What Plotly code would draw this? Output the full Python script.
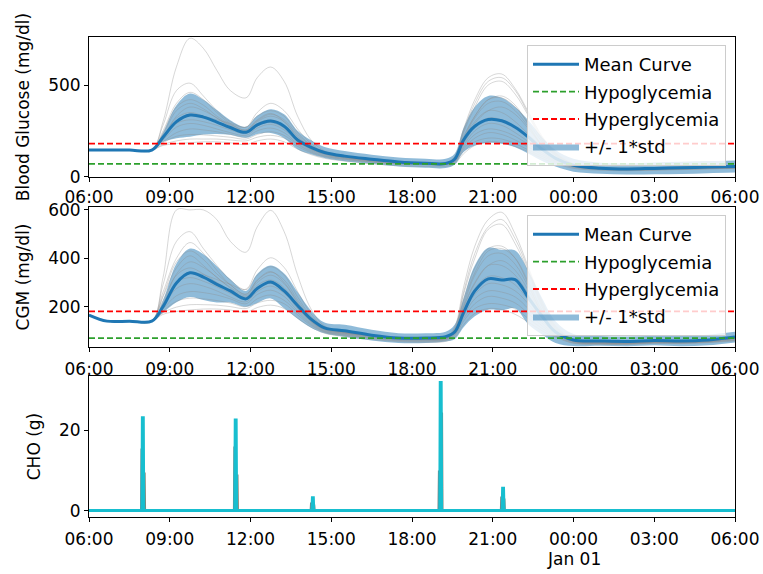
import plotly.graph_objects as go
from datetime import datetime, timedelta

# ---------------- data ----------------
time_grid = ["06:00", "06:40", "07:30", "08:20", "08:45", "09:15", "09:45", "10:15", "10:45", "11:15",
             "11:50", "12:15", "12:45", "13:15", "13:45", "14:15", "14:45", "15:30", "16:30", "17:30",
             "18:30", "19:15", "19:35", "19:55", "20:20", "20:50", "21:20", "21:50", "22:20", "22:50",
             "23:20", "00:00", "01:00", "02:00", "03:00", "04:00", "05:00", "06:00"]

bg_mean = [145, 145, 145, 145, 215, 300, 336, 325, 298, 268, 242, 282, 303, 275, 200, 160, 132, 112, 95, 80,
           73, 72, 95, 200, 275, 312, 305, 270, 215, 150, 100, 62, 46, 42, 45, 48, 52, 55]
bg_std = [0, 0, 0, 0, 25, 90, 118, 95, 65, 40, 30, 50, 65, 65, 50, 38, 30, 28, 25, 25,
          25, 25, 30, 65, 105, 128, 125, 110, 90, 65, 45, 35, 30, 30, 32, 33, 33, 33]

cgm_mean = [165, 140, 140, 140, 200, 298, 340, 322, 292, 265, 232, 275, 302, 265, 205, 148, 112, 100, 82, 70,
            70, 76, 95, 175, 265, 315, 310, 312, 235, 160, 95, 62, 58, 56, 60, 58, 62, 74]
cgm_std = [0, 0, 0, 0, 25, 80, 100, 95, 75, 48, 33, 60, 68, 72, 55, 35, 22, 25, 22, 20,
           20, 20, 30, 60, 105, 128, 125, 120, 110, 75, 45, 25, 20, 20, 20, 22, 22, 22]

bg_curves = [
    [145, 145, 145, 145, 300, 600, 755, 700, 580, 470, 430, 540, 598, 520, 330, 200, 140, 110, 90, 80, 75, 72, 100, 220, 330, 420, 440, 390, 280, 170, 100, 60, 45, 40, 42, 45, 48, 50],
    [145, 145, 145, 145, 280, 470, 510, 440, 360, 300, 270, 330, 360, 330, 240, 170, 130, 105, 88, 76, 70, 70, 110, 260, 420, 540, 560, 480, 350, 220, 130, 70, 50, 45, 48, 50, 52, 55],
    [145, 145, 145, 145, 250, 400, 460, 420, 350, 290, 255, 310, 345, 300, 215, 165, 135, 110, 92, 80, 72, 70, 100, 240, 380, 500, 520, 450, 330, 200, 120, 65, 48, 42, 44, 46, 50, 52],
    [145, 145, 145, 145, 230, 360, 400, 370, 320, 280, 250, 300, 330, 300, 220, 160, 130, 108, 90, 78, 72, 71, 95, 210, 330, 420, 430, 380, 290, 190, 115, 62, 46, 40, 42, 45, 48, 52],
    [145, 145, 145, 145, 220, 320, 350, 330, 300, 270, 245, 290, 310, 280, 205, 155, 125, 105, 88, 77, 71, 70, 92, 200, 300, 360, 350, 300, 230, 160, 105, 60, 45, 40, 42, 45, 48, 52],
    [145, 145, 145, 145, 210, 290, 310, 300, 280, 255, 235, 275, 300, 270, 200, 150, 122, 102, 86, 75, 70, 69, 88, 180, 270, 320, 310, 270, 210, 150, 100, 58, 44, 40, 41, 44, 48, 50],
    [145, 145, 145, 145, 200, 270, 290, 280, 260, 240, 225, 265, 285, 255, 190, 145, 120, 100, 85, 74, 69, 68, 85, 170, 250, 290, 280, 240, 190, 140, 95, 56, 43, 38, 40, 43, 46, 50],
    [145, 145, 145, 145, 190, 240, 260, 255, 245, 230, 215, 250, 265, 240, 180, 140, 115, 98, 82, 72, 67, 67, 82, 160, 230, 260, 250, 220, 175, 130, 90, 55, 42, 38, 40, 42, 45, 48],
    [145, 145, 145, 145, 185, 220, 230, 228, 222, 215, 205, 230, 245, 225, 175, 135, 112, 95, 80, 70, 66, 66, 80, 150, 210, 240, 230, 200, 160, 120, 85, 52, 40, 36, 38, 41, 44, 48],
    [145, 145, 145, 145, 175, 195, 205, 205, 205, 200, 195, 215, 225, 210, 165, 130, 108, 92, 78, 68, 64, 64, 76, 140, 190, 210, 205, 180, 145, 110, 80, 50, 38, 35, 37, 40, 43, 46],
    [145, 145, 145, 145, 170, 180, 185, 190, 190, 185, 175, 195, 205, 190, 150, 120, 100, 85, 70, 60, 55, 56, 70, 125, 170, 190, 185, 165, 135, 100, 72, 45, 35, 32, 35, 38, 42, 45],
    [145, 145, 145, 145, 240, 380, 420, 390, 330, 285, 255, 305, 340, 310, 230, 170, 135, 112, 95, 82, 75, 73, 105, 250, 400, 520, 540, 470, 340, 210, 125, 68, 50, 45, 48, 52, 56, 60],
    [145, 145, 145, 145, 215, 330, 380, 360, 320, 275, 240, 280, 295, 265, 195, 150, 125, 105, 90, 80, 74, 72, 90, 190, 290, 360, 380, 340, 260, 170, 105, 60, 46, 42, 44, 48, 52, 56],
    [145, 145, 145, 145, 205, 300, 340, 330, 310, 290, 270, 350, 400, 360, 260, 180, 135, 110, 92, 80, 73, 71, 90, 200, 320, 400, 410, 360, 270, 170, 105, 60, 46, 42, 45, 48, 52, 56],
]

cgm_curves = [
    [165, 140, 140, 140, 320, 600, 600, 600, 560, 470, 425, 530, 598, 510, 330, 190, 120, 95, 80, 70, 68, 70, 100, 230, 360, 440, 450, 400, 290, 170, 95, 60, 55, 52, 56, 55, 60, 70],
    [165, 140, 140, 140, 290, 470, 510, 440, 370, 310, 270, 330, 365, 330, 240, 160, 115, 95, 80, 70, 68, 72, 115, 280, 450, 560, 590, 500, 360, 220, 120, 65, 58, 55, 60, 58, 62, 75],
    [165, 140, 140, 140, 260, 400, 465, 420, 350, 290, 250, 310, 345, 300, 220, 150, 110, 92, 78, 68, 66, 70, 105, 250, 400, 520, 540, 460, 340, 200, 110, 62, 55, 54, 58, 56, 60, 72],
    [165, 140, 140, 140, 240, 360, 410, 370, 320, 280, 245, 300, 330, 295, 215, 145, 108, 92, 80, 70, 68, 70, 100, 220, 340, 430, 440, 400, 300, 185, 105, 60, 54, 52, 56, 55, 60, 72],
    [165, 140, 140, 140, 225, 330, 360, 335, 300, 268, 240, 288, 310, 278, 205, 140, 105, 90, 78, 68, 66, 68, 95, 200, 300, 370, 370, 330, 250, 160, 100, 58, 52, 50, 55, 54, 58, 70],
    [165, 140, 140, 140, 210, 300, 320, 305, 282, 255, 230, 272, 298, 266, 198, 138, 103, 88, 76, 66, 64, 67, 92, 185, 275, 325, 320, 290, 225, 150, 95, 56, 50, 49, 54, 53, 57, 68],
    [165, 140, 140, 140, 200, 275, 295, 285, 265, 240, 220, 262, 285, 255, 192, 135, 100, 86, 74, 64, 62, 66, 88, 170, 250, 295, 290, 265, 210, 140, 90, 55, 49, 48, 53, 52, 56, 66],
    [165, 140, 140, 140, 190, 245, 262, 258, 248, 232, 212, 250, 268, 242, 182, 130, 98, 84, 72, 62, 60, 64, 85, 160, 232, 265, 260, 240, 190, 130, 86, 54, 48, 47, 52, 51, 55, 64],
    [165, 140, 140, 140, 182, 222, 235, 232, 225, 215, 200, 232, 248, 226, 175, 126, 96, 82, 70, 60, 58, 62, 82, 150, 212, 242, 235, 215, 170, 120, 82, 52, 47, 46, 51, 50, 54, 62],
    [165, 140, 140, 140, 175, 198, 208, 208, 206, 200, 192, 215, 226, 212, 166, 122, 94, 80, 68, 58, 56, 60, 78, 140, 192, 212, 208, 190, 150, 110, 78, 50, 46, 45, 50, 49, 53, 60],
    [165, 140, 140, 140, 168, 180, 186, 190, 190, 186, 176, 196, 206, 192, 152, 115, 90, 76, 64, 55, 52, 56, 72, 125, 172, 192, 188, 168, 135, 100, 74, 48, 44, 43, 48, 47, 51, 58],
    [165, 140, 140, 140, 245, 385, 430, 395, 335, 290, 252, 308, 342, 310, 228, 155, 112, 94, 80, 70, 68, 71, 108, 260, 420, 530, 560, 480, 350, 210, 115, 64, 56, 55, 60, 58, 62, 74],
    [165, 140, 140, 140, 212, 335, 385, 362, 322, 276, 238, 280, 296, 268, 195, 140, 105, 90, 78, 68, 66, 68, 92, 195, 295, 370, 390, 350, 265, 170, 100, 58, 52, 50, 55, 54, 58, 70],
    [165, 140, 140, 140, 205, 300, 340, 332, 312, 292, 272, 352, 402, 362, 262, 170, 115, 95, 80, 70, 66, 68, 90, 205, 330, 410, 420, 375, 280, 175, 100, 58, 52, 50, 55, 54, 58, 70],
]

# CHO (g) per patient trace: sample times and values
cho_cyan_times = ["06:00", "07:58", "07:59", "08:01", "08:02", "11:25", "11:26", "11:28", "11:29",
                  "14:17", "14:18", "14:20", "14:21", "19:02", "19:03", "19:05", "19:06",
                  "21:21", "21:22", "21:24", "21:25", "06:00"]
cho_cyan_vals = [0, 0, 23.2, 23.2, 0, 0, 22.6, 22.6, 0, 0, 3.2, 3.2, 0, 0, 32, 32, 0, 0, 5.6, 5.6, 0, 0]

cho_gray_a_times = ["06:00", "07:56", "07:57", "07:58", "11:23", "11:24", "11:25", "14:14", "14:15", "14:16",
                    "18:59", "19:00", "19:01", "21:18", "21:19", "21:20", "06:00"]
cho_gray_a_vals = [0, 0, 15.5, 0, 0, 16, 0, 0, 2, 0, 0, 10, 0, 0, 3.5, 0, 0]

cho_gray_b_times = ["06:00", "08:03", "08:04", "08:05", "11:30", "11:31", "11:32", "14:21", "14:22", "14:23",
                    "19:06", "19:07", "19:08", "21:25", "21:26", "21:27", "06:00"]
cho_gray_b_vals = [0, 0, 9.5, 0, 0, 9, 0, 0, 1.5, 0, 0, 24.5, 0, 0, 3, 0, 0]

hypo_level = 70
hyper_level = 180

tick_labels = ["06:00", "09:00", "12:00", "15:00", "18:00", "21:00", "00:00", "03:00", "06:00"]
date_label = "Jan 01"
date_label_time = "00:00"


def to_dt(labels):
    base = datetime(2017, 12, 31)
    out, day, prev = [], 0, None
    for s in labels:
        h, m = map(int, s.split(":"))
        mins = h * 60 + m
        if prev is not None and mins <= prev:
            day += 1
        prev = mins
        out.append(base + timedelta(days=day, hours=h, minutes=m))
    return out


t = to_dt(time_grid)
tick_vals = to_dt(tick_labels)
x_range = [tick_vals[0], tick_vals[-1]]

FONT = "DejaVu Sans"
FS = 17
LFS = 18
BLUE = "#1f77b4"
GRAY_LINE = "rgba(140,140,140,0.35)"

fig = go.Figure()


def add_panel(mean, std, curves, xa, ya, legend_name):
    upper = [m + s for m, s in zip(mean, std)]
    lower = [m - s for m, s in zip(mean, std)]
    fig.add_trace(go.Scatter(x=t, y=lower, mode="lines", line=dict(width=0, shape="spline"),
                             showlegend=False, hoverinfo="skip", xaxis=xa, yaxis=ya, legendgroup="band"))
    fig.add_trace(go.Scatter(x=t, y=upper, mode="lines", line=dict(width=0, shape="spline"),
                             fill="tonexty", fillcolor="rgba(31,119,180,0.5)", name="+/- 1*std",
                             legend=legend_name, legendrank=4, legendgroup="band", xaxis=xa, yaxis=ya))
    for c in curves:
        fig.add_trace(go.Scatter(x=t, y=c, mode="lines", line=dict(color=GRAY_LINE, width=1, shape="spline"),
                                 showlegend=False, hoverinfo="skip", xaxis=xa, yaxis=ya))
    fig.add_trace(go.Scatter(x=t, y=mean, mode="lines", line=dict(color=BLUE, width=3, shape="spline"),
                             name="Mean Curve", legend=legend_name, legendrank=1, legendgroup="mean",
                             xaxis=xa, yaxis=ya))
    fig.add_trace(go.Scatter(x=x_range, y=[hypo_level, hypo_level], mode="lines",
                             line=dict(color="#2ca02c", width=1.8, dash="6px,3px"),
                             name="Hypoglycemia", legend=legend_name, legendrank=2, legendgroup="hypo",
                             xaxis=xa, yaxis=ya))
    fig.add_trace(go.Scatter(x=x_range, y=[hyper_level, hyper_level], mode="lines",
                             line=dict(color="#ff0000", width=1.8, dash="6px,3px"),
                             name="Hyperglycemia", legend=legend_name, legendrank=3, legendgroup="hyper",
                             xaxis=xa, yaxis=ya))


add_panel(bg_mean, bg_std, bg_curves, "x", "y", "legend")
add_panel(cgm_mean, cgm_std, cgm_curves, "x2", "y2", "legend2")

for times, vals, col, w in [(cho_gray_a_times, cho_gray_a_vals, "#7f7f7f", 2),
                            (cho_gray_b_times, cho_gray_b_vals, "#8c7f6f", 2),
                            (cho_cyan_times, cho_cyan_vals, "#17becf", 3)]:
    fig.add_trace(go.Scatter(x=to_dt(times), y=vals, mode="lines", line=dict(color=col, width=w),
                             showlegend=False, hoverinfo="skip", xaxis="x3", yaxis="y3"))

H = 574.0
axis_common = dict(showline=True, mirror=True, linecolor="black", linewidth=1, ticks="outside",
                   ticklen=4, tickwidth=1, tickcolor="black", showgrid=False, zeroline=False,
                   automargin=False, tickfont=dict(family=FONT, size=FS, color="black"))
x_common = dict(range=x_range, tickvals=tick_vals, ticktext=tick_labels, **axis_common)

legend_common = dict(bgcolor="rgba(255,255,255,0.8)", bordercolor="#cccccc", borderwidth=1,
                     font=dict(family=FONT, size=LFS, color="black"), xanchor="right", yanchor="top",
                     x=(726 - 89) / 646.0, traceorder="grouped", tracegroupgap=1, itemwidth=46)

fig.update_layout(
    width=763, height=574,
    margin=dict(l=89, r=28, t=0, b=0),
    plot_bgcolor="white", paper_bgcolor="white",
    font=dict(family=FONT, size=FS, color="black"),
    xaxis=dict(anchor="y", ticklabelstandoff=1, **x_common),
    xaxis2=dict(anchor="y2", ticklabelstandoff=3, **x_common),
    xaxis3=dict(anchor="y3", ticklabelstandoff=3, **x_common),
    yaxis=dict(domain=[1 - 177 / H, 1 - 37 / H], range=[-2, 762], tickvals=[0, 500],
               title=dict(text="Blood Glucose (mg/dl)", font=dict(family=FONT, size=FS), standoff=14),
               **axis_common),
    yaxis2=dict(domain=[1 - 347 / H, 1 - 207 / H], range=[33, 612], tickvals=[200, 400, 600],
                title=dict(text="CGM (mg/dl)", font=dict(family=FONT, size=FS), standoff=14),
                **axis_common),
    yaxis3=dict(domain=[1 - 517 / H, 1 - 376 / H], range=[-1.6, 33.6], tickvals=[0, 20],
                title=dict(text="CHO (g)", font=dict(family=FONT, size=FS), standoff=14),
                **axis_common),
    legend=dict(y=1 - 45 / H, **legend_common),
    legend2=dict(y=1 - 215 / H, **legend_common),
    annotations=[dict(text=date_label, x=to_dt(["06:00", date_label_time])[1], xref="x3",
                      y=1 - 559 / H, yref="paper", yanchor="middle", showarrow=False,
                      font=dict(family=FONT, size=FS, color="black"))],
    showlegend=True,
)

fig.write_html("out.html")
